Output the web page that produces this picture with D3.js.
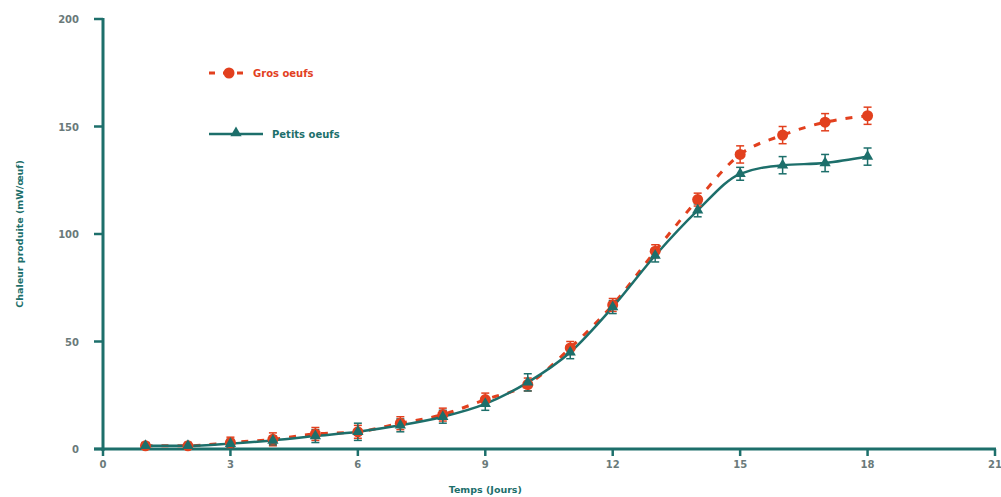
<!DOCTYPE html>
<html>
<head>
<meta charset="utf-8">
<script src="https://cdn.jsdelivr.net/npm/d3@7"></script>
<style>
  body { margin: 0; background: #fff; }
  svg { display: block; font-family: "DejaVu Sans", Verdana, sans-serif; }
</style>
</head>
<body>
<svg id="chart" width="1001" height="497"></svg>
<script>
// data
const days = [1, 2, 3, 4, 5, 6, 7, 8, 9, 10, 11, 12, 13, 14, 15, 16, 17, 18];
const grosOeufs = [1.5, 1.5, 3, 4.5, 7, 8, 12, 16, 23, 30, 47, 67, 92, 116, 137, 146, 152, 155];
const grosErr = [1.5, 1.5, 2.5, 3, 3, 3, 3, 3, 3, 3, 3, 3, 3, 3, 4, 4, 4, 4];
const petitsOeufs = [1.5, 1.5, 2.5, 4, 6, 8, 11, 15, 21, 31, 45, 66, 90, 111, 128, 132, 133, 136];
const petitsErr = [1.5, 1.5, 2, 2, 3, 4, 3, 3, 3, 4, 3, 3, 3, 3, 3, 4, 4, 4];
const xTicks = [0, 3, 6, 9, 12, 15, 18, 21];
const yTicks = [0, 50, 100, 150, 200];
const seriesNames = ["Gros oeufs", "Petits oeufs"];

const teal = "#1d6f6b";
const red = "#e2401e";
const labelColor = "#6a7a7a";

const svg = d3.select("#chart");

const xScale = d3.scaleLinear().domain([0, 21]).range([103, 995]);
const yScale = d3.scaleLinear().domain([0, 200]).range([449, 19]);

// Y axis
const yAxis = svg.append("g").attr("transform", "translate(103,0)");
yAxis.append("line")
  .attr("x1", 0).attr("x2", 0)
  .attr("y1", yScale(200) - 1).attr("y2", yScale(0) + 2)
  .attr("stroke", teal).attr("stroke-width", 3);
yAxis.selectAll(".yt").data(yTicks).enter().append("line")
  .attr("x1", -9).attr("x2", 0)
  .attr("y1", d => yScale(d)).attr("y2", d => yScale(d))
  .attr("stroke", teal).attr("stroke-width", 2.5);
yAxis.selectAll(".yl").data(yTicks).enter().append("text")
  .attr("x", -24).attr("y", d => yScale(d) + 4)
  .attr("text-anchor", "end")
  .attr("fill", labelColor)
  .style("font-size", "10px").style("font-weight", "bold")
  .text(d => d);

// X axis
const xAxis = svg.append("g").attr("transform", `translate(0,${yScale(0)})`);
xAxis.append("line")
  .attr("x1", 94).attr("x2", xScale(21) + 1)
  .attr("y1", 0).attr("y2", 0)
  .attr("stroke", teal).attr("stroke-width", 3);
xAxis.selectAll(".xt").data(xTicks).enter().append("line")
  .attr("x1", d => xScale(d)).attr("x2", d => xScale(d))
  .attr("y1", 0).attr("y2", 7)
  .attr("stroke", teal).attr("stroke-width", 2.5);
xAxis.selectAll(".xl").data(xTicks).enter().append("text")
  .attr("x", d => xScale(d)).attr("y", 19)
  .attr("text-anchor", "middle")
  .attr("fill", labelColor)
  .style("font-size", "10px").style("font-weight", "bold")
  .text(d => d);

// axis titles
svg.append("text")
  .attr("x", xScale(9)).attr("y", 493)
  .attr("text-anchor", "middle")
  .attr("fill", teal)
  .style("font-size", "9.5px").style("font-weight", "bold")
  .text("Temps (Jours)");

svg.append("text")
  .attr("transform", "rotate(-90)")
  .attr("x", -yScale(100)).attr("y", 23)
  .attr("text-anchor", "middle")
  .attr("fill", teal)
  .style("font-size", "9.5px").style("font-weight", "bold")
  .text("Chaleur produite (mW/œuf)");

// lines
const line = d3.line()
  .x((d, i) => xScale(days[i]))
  .y(d => yScale(d))
  .curve(d3.curveMonotoneX);

svg.append("path")
  .datum(grosOeufs)
  .attr("d", line)
  .attr("fill", "none")
  .attr("stroke", red).attr("stroke-width", 3)
  .attr("stroke-dasharray", "7,9");

svg.append("path")
  .datum(petitsOeufs)
  .attr("d", line)
  .attr("fill", "none")
  .attr("stroke", teal).attr("stroke-width", 2.5);

// error bars
function errorBars(vals, errs, color) {
  const g = svg.append("g");
  vals.forEach((v, i) => {
    const x = xScale(days[i]);
    const y1 = yScale(v + errs[i]), y2 = yScale(v - errs[i]);
    g.append("line").attr("x1", x).attr("x2", x).attr("y1", y1).attr("y2", y2)
      .attr("stroke", color).attr("stroke-width", 1.5);
    g.append("line").attr("x1", x - 4).attr("x2", x + 4).attr("y1", y1).attr("y2", y1)
      .attr("stroke", color).attr("stroke-width", 1.5);
    g.append("line").attr("x1", x - 4).attr("x2", x + 4).attr("y1", y2).attr("y2", y2)
      .attr("stroke", color).attr("stroke-width", 1.5);
  });
}
errorBars(grosOeufs, grosErr, red);
errorBars(petitsOeufs, petitsErr, teal);

// markers
svg.selectAll(".gros").data(grosOeufs).enter().append("circle")
  .attr("cx", (d, i) => xScale(days[i]))
  .attr("cy", d => yScale(d))
  .attr("r", 5.5)
  .attr("fill", red);

const tri = d3.symbol().type(d3.symbolTriangle).size(55);
svg.selectAll(".petits").data(petitsOeufs).enter().append("path")
  .attr("d", tri)
  .attr("transform", (d, i) => `translate(${xScale(days[i])},${yScale(d)})`)
  .attr("fill", teal);

// legend
const leg = svg.append("g");
leg.append("line").attr("x1", 209).attr("x2", 247).attr("y1", 73).attr("y2", 73)
  .attr("stroke", red).attr("stroke-width", 3).attr("stroke-dasharray", "6,8");
leg.append("circle").attr("cx", 229).attr("cy", 73).attr("r", 5.5).attr("fill", red);
leg.append("text").attr("x", 253).attr("y", 77)
  .attr("fill", red).style("font-size", "10px").style("font-weight", "bold")
  .text(seriesNames[0]);

leg.append("line").attr("x1", 209).attr("x2", 263).attr("y1", 134).attr("y2", 134)
  .attr("stroke", teal).attr("stroke-width", 2.5);
leg.append("path").attr("d", tri).attr("transform", "translate(236,133)").attr("fill", teal);
leg.append("text").attr("x", 272).attr("y", 138)
  .attr("fill", teal).style("font-size", "10px").style("font-weight", "bold")
  .text(seriesNames[1]);
</script>
</body>
</html>
